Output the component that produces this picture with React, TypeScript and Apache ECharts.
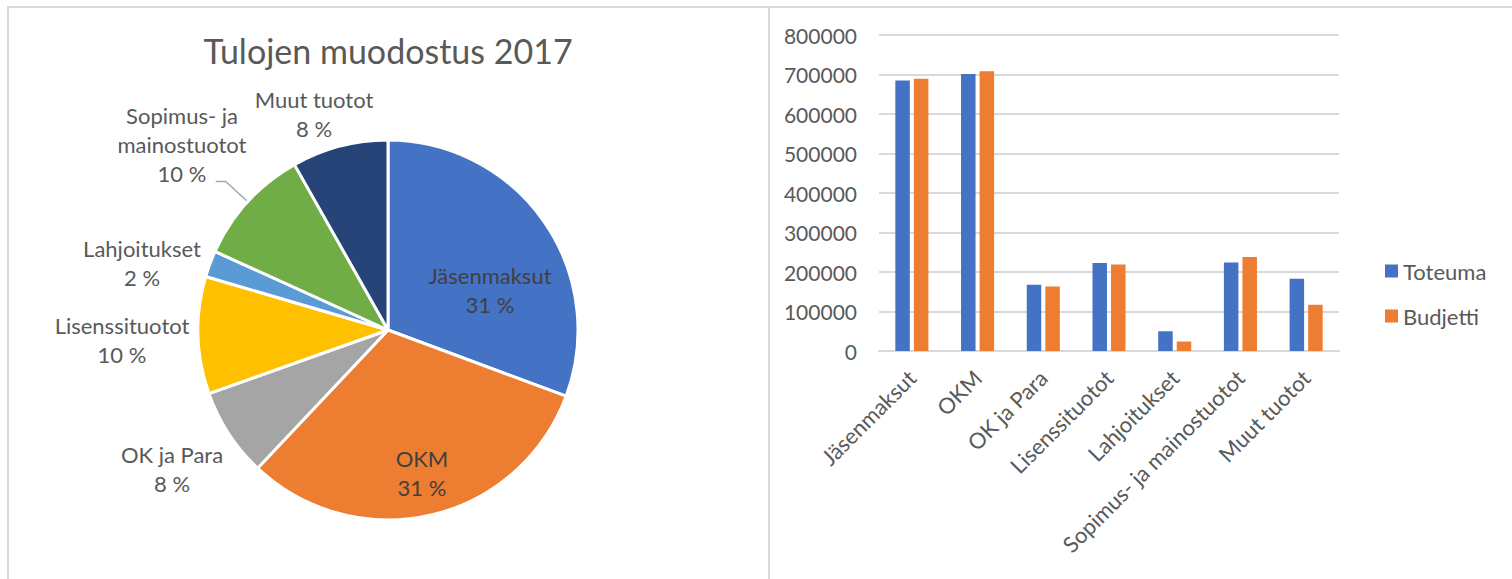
import React, { useEffect, useRef } from "react";
import * as echarts from "echarts";

// ---------- data ----------
const categories = [
  "Jäsenmaksut",
  "OKM",
  "OK ja Para",
  "Lisenssituotot",
  "Lahjoitukset",
  "Sopimus- ja mainostuotot",
  "Muut tuotot",
];
const toteuma = [685000, 701000, 168000, 223000, 50000, 224000, 183000];
const budjetti = [689000, 708000, 163000, 219000, 24000, 238000, 117000];
const seriesNames = ["Toteuma", "Budjetti"];
const pieTitle = "Tulojen muodostus 2017";
const yMax = 800000;
const yStep = 100000;

// ---------- styles / layout ----------
const FONT = "Lato";
const TEXT = "#595959";
const TEXT_DARK = "#404040";
const GRID = "#d9d9d9";
const pieColors = ["#4472C4", "#ED7D31", "#A5A5A5", "#FFC000", "#5B9BD5", "#70AD47", "#264478"];
const barColors = ["#4472C4", "#ED7D31"];
const PIE_CX = 388;
const PIE_CY = 330;
const PIE_R = 190;
// label centre offsets relative to pie centre
const pieLabelOffset = [
  [102, -40],
  [34, 143],
  [-216, 139],
  [-266, 10],
  [-246, -67],
  [-206, -186],
  [-74, -216],
];
const LEADER_INDEX = 5;

const pieLabelText = (p: any) =>
  `${String(p.name).replace("- ja ", "- ja\n")}\n${Math.round(p.percent)} %`;

export default function App() {
  const ref = useRef<HTMLDivElement>(null);

  useEffect(() => {
    if (!ref.current) return;
    const chart = echarts.init(ref.current, null, { renderer: "svg" });

    const option: any = {
      animation: false,
      backgroundColor: "#ffffff",
      textStyle: { fontFamily: FONT },
      graphic: [
        {
          type: "line",
          shape: { x1: 7, y1: 7, x2: 1512, y2: 7 },
          style: { stroke: GRID, lineWidth: 2 },
          silent: true,
        },
        {
          type: "line",
          shape: { x1: 8, y1: 7, x2: 8, y2: 579 },
          style: { stroke: GRID, lineWidth: 2 },
          silent: true,
        },
        {
          type: "line",
          shape: { x1: 769, y1: 6, x2: 769, y2: 579 },
          style: { stroke: GRID, lineWidth: 2 },
          silent: true,
        },
        {
          type: "text",
          x: 388,
          y: 50,
          silent: true,
          style: {
            text: pieTitle,
            fontSize: 34,
            fontFamily: FONT,
            fill: TEXT,
            align: "center",
            verticalAlign: "middle",
          },
        },
      ],
      legend: {
        data: seriesNames,
        orient: "vertical",
        left: 1380,
        top: 255,
        itemWidth: 13,
        itemHeight: 13,
        itemGap: 23,
        icon: "rect",
        selectedMode: false,
        textStyle: { fontSize: 22, color: TEXT, fontFamily: FONT },
      },
      grid: { left: 879, top: 35, width: 460, height: 316, containLabel: false },
      xAxis: {
        type: "category",
        data: categories,
        axisLine: { show: true, lineStyle: { color: GRID, width: 2 } },
        axisTick: { show: false },
        axisLabel: {
          rotate: 45,
          interval: 0,
          margin: 23,
          fontSize: 22,
          color: TEXT,
          fontFamily: FONT,
        },
      },
      yAxis: {
        type: "value",
        min: 0,
        max: yMax,
        interval: yStep,
        axisLine: { show: false },
        axisTick: { show: false },
        axisLabel: {
          margin: 22,
          fontSize: 21,
          color: TEXT,
          fontFamily: FONT,
          formatter: (v: number) => String(v),
        },
        splitLine: { lineStyle: { color: GRID, width: 2 } },
      },
      series: [
        {
          name: seriesNames[0],
          type: "bar",
          data: toteuma,
          barWidth: 14.5,
          barGap: "28%",
          itemStyle: { color: barColors[0] },
          silent: true,
        },
        {
          name: seriesNames[1],
          type: "bar",
          data: budjetti,
          barWidth: 14.5,
          barGap: "28%",
          itemStyle: { color: barColors[1] },
          silent: true,
        },
        {
          name: "pie",
          type: "pie",
          center: [PIE_CX, PIE_CY],
          radius: PIE_R,
          startAngle: 90,
          clockwise: true,
          silent: true,
          avoidLabelOverlap: false,
          itemStyle: { borderColor: "#ffffff", borderWidth: 3 },
          data: categories.map((name, i) => ({
            name,
            value: toteuma[i],
            itemStyle: { color: pieColors[i] },
            label: { color: i < 2 ? TEXT_DARK : TEXT },
          })),
          label: {
            show: true,
            position: "outside",
            formatter: pieLabelText,
            fontSize: 22,
            lineHeight: 29,
            fontFamily: FONT,
            align: "center",
          },
          labelLine: { show: false },
          labelLayout: (params: any) => {
            const o = pieLabelOffset[params.dataIndex];
            return {
              x: PIE_CX + o[0],
              y: PIE_CY + o[1],
              align: "center",
              verticalAlign: "middle",
            };
          },
        },
        {
          // overlay: only draws the leader line of one label
          name: "pieLeader",
          type: "pie",
          center: [PIE_CX, PIE_CY],
          radius: PIE_R,
          startAngle: 90,
          clockwise: true,
          silent: true,
          avoidLabelOverlap: false,
          itemStyle: { color: "rgba(0,0,0,0)", borderWidth: 0 },
          data: categories.map((name, i) => ({
            name,
            value: toteuma[i],
            label: { show: i === LEADER_INDEX },
            labelLine: { show: i === LEADER_INDEX },
          })),
          label: {
            show: false,
            position: "outside",
            formatter: " ",
            color: "rgba(0,0,0,0)",
            fontSize: 4,
          },
          labelLine: {
            length: 30,
            length2: 10,
            lineStyle: { color: "#a6a6a6", width: 1.5 },
          },
        },
      ],
    };

    chart.setOption(option);
    return () => chart.dispose();
  }, []);

  return (
    <div
      ref={ref}
      style={{ position: "absolute", left: 0, top: 0, width: 1512, height: 579, background: "#fff" }}
    />
  );
}
